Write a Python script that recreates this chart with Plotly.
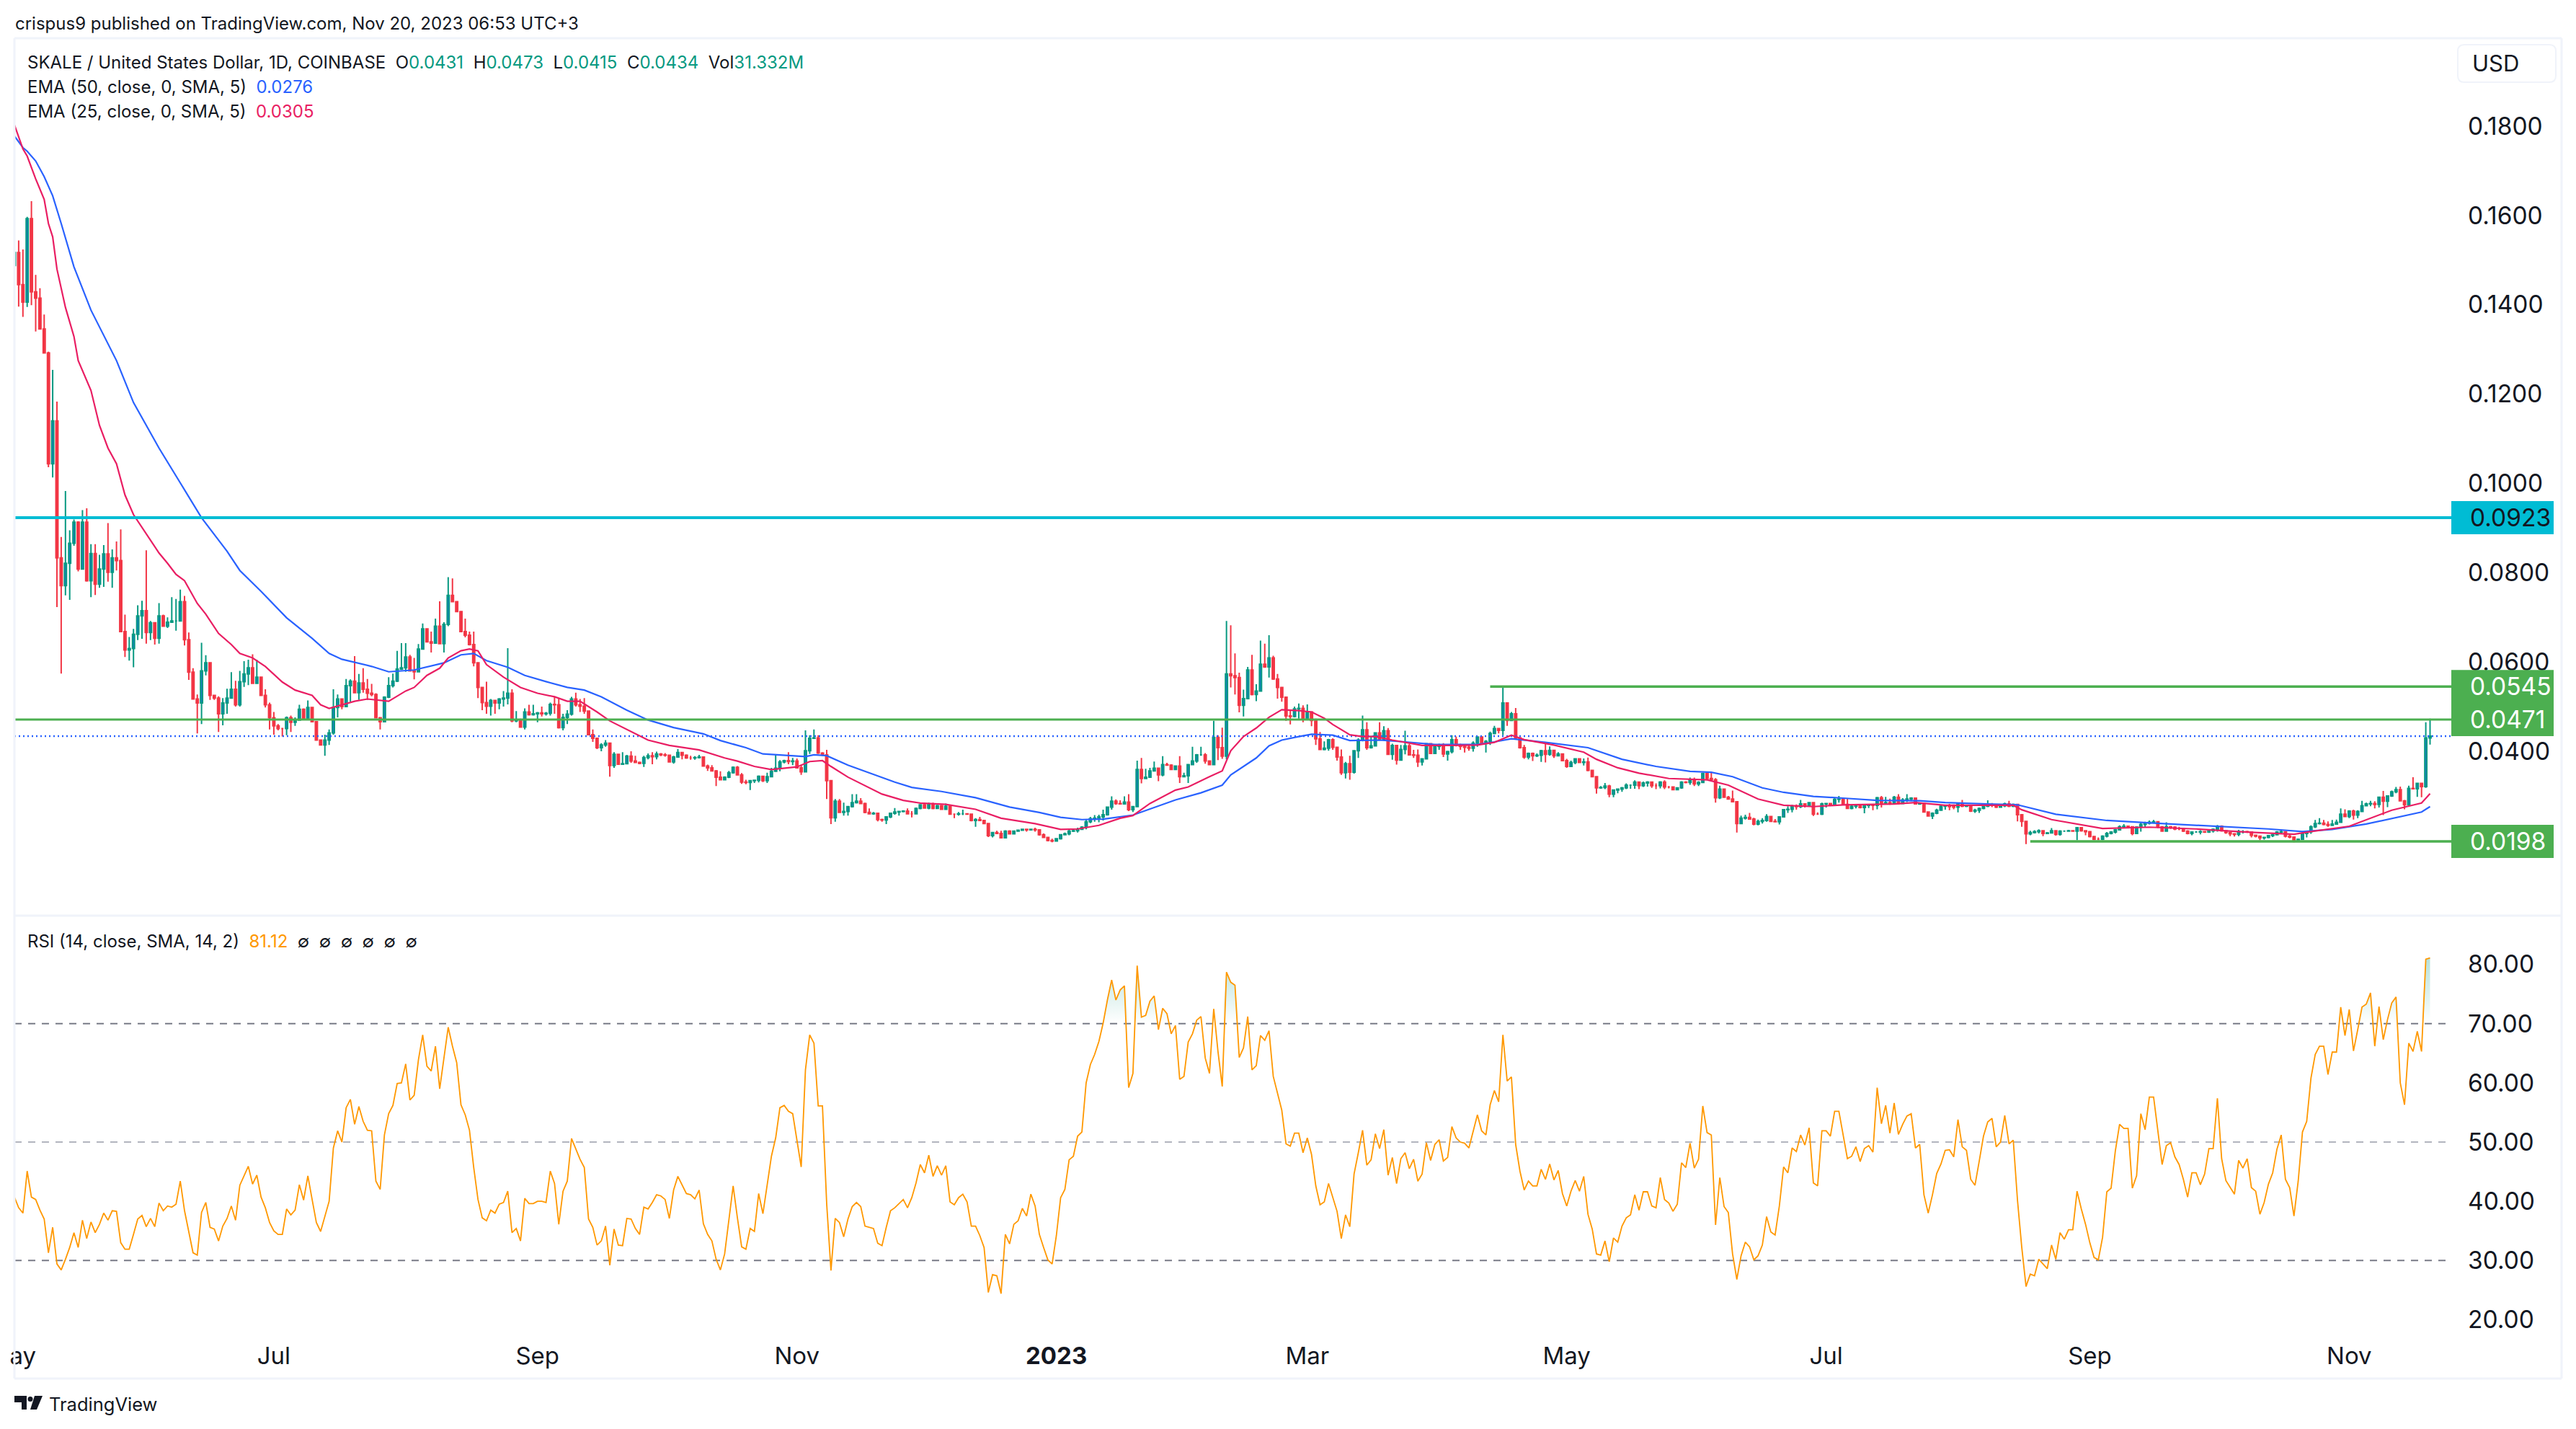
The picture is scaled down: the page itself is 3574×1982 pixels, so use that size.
import numpy as np
import pandas as pd
import plotly.graph_objects as go

# daily candles, in ten-thousandths of a dollar
first_open = 1488
closes = [
    1517,1445,1406,1593,1429,1415,1346,1292,1044,1140,
    833,771,821,866,913,808,913,782,843,774,
    808,842,801,833,827,668,627,630,662,703,
    715,666,688,653,703,680,689,692,692,735,
    650,577,517,508,580,598,525,519,484,508,
    519,539,504,556,573,587,552,566,525,504,
    475,457,451,451,475,465,470,494,472,498,
    466,425,414,425,441,498,517,500,547,557,
    531,553,539,530,527,475,466,521,547,557,
    584,587,611,580,578,629,674,645,642,680,
    641,684,749,735,713,668,660,639,598,543,
    509,501,514,508,517,519,530,468,470,454,
    488,482,484,486,484,485,505,504,453,476,
    483,517,504,501,490,437,429,408,414,418,
    368,393,371,372,389,378,375,373,386,390,
    388,394,392,391,376,387,397,391,385,385,
    386,387,367,363,356,342,336,342,352,364,
    347,331,330,334,335,344,334,343,355,362,
    376,379,377,378,363,354,401,429,430,396,
    392,334,251,288,263,265,276,285,288,283,
    263,260,261,247,246,253,261,264,265,266,
    260,260,272,280,273,281,272,278,270,277,
    259,259,260,260,259,245,247,245,238,211,
    218,216,206,221,215,221,223,225,224,225,
    224,213,207,200,199,204,213,215,221,222,
    225,230,242,249,250,253,258,275,288,283,
    282,286,269,276,359,339,342,356,362,347,
    370,369,359,367,343,345,370,378,392,392,
    378,370,431,408,389,573,569,565,503,518,
    582,527,535,595,589,609,562,543,521,479,
    478,495,496,472,488,469,428,404,407,426,
    409,387,352,372,353,401,425,448,408,412,
    441,426,446,393,413,380,404,412,392,391,
    376,383,417,395,411,412,394,399,426,414,
    411,409,407,418,432,419,422,440,451,447,
    508,469,484,430,408,387,395,390,391,401,
    393,402,390,394,379,366,375,383,375,376,
    357,343,318,319,322,304,313,315,318,324,
    324,331,323,329,331,323,323,331,320,320,
    314,318,331,330,336,327,330,350,339,336,
    296,315,297,293,287,238,250,252,248,237,
    243,245,254,243,242,253,269,270,277,276,
    282,279,285,259,259,282,283,279,292,293,
    281,272,277,280,274,279,280,279,296,284,
    285,283,297,283,291,293,295,282,283,264,
    255,261,268,277,278,276,275,283,277,278,
    266,268,272,277,280,279,275,278,282,277,
    281,258,243,215,218,220,222,216,217,222,
    214,221,221,222,221,229,222,220,209,203,
    203,210,216,219,224,231,232,231,216,230,
    236,239,241,242,231,221,231,230,226,226,
    221,216,219,219,220,219,222,225,232,222,
    218,215,214,220,220,219,212,210,206,207,
    211,213,219,220,210,208,199,203,216,220,
    231,238,239,236,234,237,241,259,254,266,
    257,265,278,282,283,281,297,288,300,309,
    314,289,280,317,316,328,321,430,434]
highs = [
    1552,1544,1524,1597,1632,1467,1437,1378,1295,1254,
    1183,880,983,895,919,915,940,944,864,864,
    840,862,911,852,870,897,706,656,674,727,
    737,850,692,688,732,706,700,745,741,762,
    748,666,586,527,643,615,598,525,523,519,
    540,577,558,580,602,605,617,605,566,539,
    509,488,461,451,478,480,476,504,496,514,
    498,466,425,437,449,539,527,518,562,561,
    613,573,586,562,551,530,476,523,566,574,
    625,642,642,616,609,640,686,674,668,697,
    736,689,790,787,735,713,697,668,668,598,
    543,556,517,514,519,535,631,539,490,473,
    496,504,504,488,500,488,509,523,519,484,
    492,522,531,517,519,490,449,429,418,425,
    419,398,393,398,392,400,390,377,390,395,
    398,399,396,396,392,390,405,398,393,390,
    389,392,386,370,369,358,355,344,356,366,
    367,351,336,335,336,346,345,352,363,392,
    380,381,398,385,384,369,447,436,449,436,
    398,403,335,293,293,285,277,304,304,295,
    285,272,264,261,249,253,261,273,266,268,
    272,266,274,281,283,285,285,280,280,283,
    275,260,264,269,260,258,250,253,246,238,
    219,222,222,223,223,222,224,226,226,226,
    229,224,216,207,204,204,214,218,226,225,
    229,232,248,253,257,258,269,275,299,292,
    290,299,304,277,379,385,361,363,377,362,
    389,374,371,368,389,352,371,410,394,410,
    396,378,468,436,453,692,682,619,576,538,
    589,616,550,648,641,660,614,573,543,522,
    492,500,507,503,505,488,473,443,422,428,
    429,410,404,376,390,402,429,480,465,435,
    441,465,456,452,417,413,414,446,417,403,
    404,384,417,418,413,417,418,401,436,433,
    417,414,414,422,433,434,425,444,457,449,
    542,506,488,497,432,414,397,397,395,403,
    420,411,402,398,395,383,379,384,383,384,
    386,357,343,322,329,325,314,316,320,328,
    325,335,332,332,333,331,328,333,335,322,
    320,319,333,333,341,341,333,352,350,352,
    340,323,315,300,312,287,256,258,262,251,
    247,250,259,254,248,254,269,277,280,281,
    291,282,285,285,263,285,284,284,296,300,
    296,294,280,281,280,281,282,280,298,300,
    298,294,300,304,295,304,297,293,285,283,
    264,263,271,280,280,282,281,285,291,280,
    279,271,274,279,290,284,282,282,285,289,
    283,282,258,243,222,223,225,223,219,228,
    222,223,222,224,223,230,229,223,216,209,
    207,212,219,221,226,234,237,232,232,232,
    241,242,245,246,242,232,241,233,232,231,
    228,223,220,221,223,221,224,227,235,234,
    223,218,216,224,223,222,220,212,210,208,
    212,215,221,225,220,213,208,204,221,221,
    234,246,250,246,243,246,247,272,270,268,
    269,268,289,285,289,288,297,311,301,312,
    320,321,291,323,342,329,328,465,473]
lows = [
    1426,1396,1373,1395,1399,1340,1345,1292,1036,1013,
    723,574,749,739,860,803,808,780,745,750,
    766,768,780,766,805,668,611,603,588,649,
    652,641,649,639,641,680,676,688,670,692,
    637,560,517,440,461,570,515,515,443,458,
    484,519,500,500,544,548,551,551,525,498,
    449,437,447,433,436,443,457,469,470,472,
    466,425,414,390,414,437,476,494,500,511,
    531,515,531,515,523,475,449,466,519,543,
    555,582,578,579,561,582,629,645,621,641,
    641,621,680,735,713,668,655,637,590,519,
    492,484,480,484,494,500,505,465,465,454,
    449,480,480,465,478,480,480,484,451,447,
    461,480,500,488,484,437,421,405,400,410,
    343,363,371,371,371,374,375,371,365,382,
    371,382,389,388,375,372,387,382,383,381,
    381,384,367,356,355,322,335,336,340,350,
    346,327,326,313,329,330,331,329,342,354,
    355,373,371,369,363,347,354,394,428,394,
    390,293,237,242,263,256,256,274,283,283,
    261,259,258,243,242,237,250,258,256,263,
    259,252,261,270,272,270,270,274,269,272,
    259,250,256,257,258,243,231,245,237,208,
    207,215,205,207,214,214,220,222,220,223,
    220,211,207,198,196,199,202,212,212,219,
    218,224,225,239,242,241,245,256,269,280,
    281,283,266,264,275,328,341,342,355,333,
    344,368,358,358,329,345,329,369,374,390,
    372,369,369,380,383,382,543,527,487,478,
    517,525,512,534,587,565,560,518,511,468,
    460,476,473,465,470,456,414,403,402,401,
    403,379,347,339,336,350,385,422,403,406,
    411,426,424,393,381,370,379,393,392,385,
    365,368,382,395,394,403,387,379,395,411,
    403,397,401,399,410,418,397,414,438,440,
    436,457,469,427,406,383,382,378,387,376,
    375,390,385,390,378,363,365,371,374,368,
    355,343,305,316,315,297,297,306,309,315,
    316,316,315,320,321,318,315,317,315,317,
    313,317,316,328,325,322,322,330,336,334,
    285,293,297,293,286,218,237,247,248,234,
    234,238,242,243,241,236,252,262,263,269,
    273,274,277,255,258,257,274,277,280,285,
    280,271,270,272,272,261,273,268,270,274,
    282,280,282,281,285,286,288,282,280,264,
    255,248,259,268,269,268,270,263,275,275,
    264,262,262,270,275,275,273,274,275,275,
    275,243,231,192,212,216,216,210,215,216,
    211,211,220,220,220,201,220,212,207,201,
    201,201,207,214,216,223,227,227,212,216,
    220,229,236,239,228,221,221,226,223,223,
    219,214,212,218,214,217,217,218,220,220,
    215,210,209,210,216,217,207,207,201,202,
    205,208,212,215,207,205,196,198,205,207,
    215,228,236,234,231,236,236,243,253,250,
    247,250,265,277,277,272,274,257,275,298,
    306,289,270,280,315,298,297,318,415]

# moving averages, read at the bends of each line (bar number, price)
ema25_days = [0,2,3,5,7,8,9,10,12,14,15,18,20,22,24,26,28,31,34,36,38,40,43,45,48,51,53,56,59,63,66,70,72,74,77,80,83,86,88,92,94,97,100,102,105,107,109,111,115,119,123,127,130,133,137,140,144,149,154,161,167,170,174,178,184,187,190,192,196,199,204,209,213,219,226,232,240,246,250,255,260,263,267,273,276,281,284,286,289,292,295,298,302,305,308,310,314,317,320,324,331,337,344,348,352,355,362,369,372,377,382,389,398,403,410,416,423,430,442,447,454,470,472,479,485,491,502,513,525,536,540,549,559,566,568]
ema25_vals = [1803,1749,1733,1682,1636,1582,1552,1480,1394,1329,1275,1208,1130,1079,1044,974,930,887,844,821,796,782,731,707,664,639,619,609,590,555,537,525,504,496,504,512,517,514,512,535,543,570,586,609,625,629,625,594,566,543,530,522,512,512,488,468,449,425,413,403,385,378,366,359,365,377,379,366,342,328,304,290,284,281,270,250,238,225,226,234,250,256,283,313,320,343,356,401,433,452,476,493,491,488,474,460,437,433,433,425,413,413,414,420,436,426,414,398,382,363,351,339,336,324,293,279,276,280,282,285,279,279,269,247,237,227,230,226,219,214,220,232,268,284,305]
ema50_days = [0,2,3,5,7,9,11,14,18,24,28,34,39,44,50,53,58,64,70,74,77,84,88,94,101,105,108,111,116,120,125,130,134,138,144,149,155,162,166,172,176,179,186,188,191,196,201,207,211,218,226,234,241,246,251,256,263,273,279,284,286,292,295,298,302,305,310,314,321,327,334,344,348,352,360,370,378,386,394,399,404,411,416,423,430,438,448,454,464,471,480,492,503,519,530,538,545,553,561,566,568]
ema50_vals = [1778,1752,1744,1722,1687,1644,1582,1485,1388,1275,1181,1079,1001,923,848,805,758,699,653,619,606,590,578,582,598,616,619,603,588,570,556,543,537,522,492,470,453,439,424,408,394,392,388,392,390,369,352,331,319,310,296,275,263,252,247,248,257,291,307,324,347,385,412,425,433,438,436,424,425,421,415,415,421,428,420,408,382,366,355,353,343,318,308,299,295,290,289,285,282,280,259,245,239,231,226,220,225,237,253,264,276]

rsi = [
    40.7,38.9,38,45.1,40.7,40.3,38.5,37,31.3,35.6,
    29.4,28.4,30.2,32.2,34.7,32.2,36.8,33.7,36.5,34.7,
    36.1,38,36.8,38.4,38.3,33,31.9,31.9,34.4,37,
    37.6,35.7,37.1,35.7,39.7,38.4,39.2,39,39.5,43.4,
    38.4,34.7,31.3,30.9,38.1,39.8,35.6,35.3,33.3,35.8,
    37.1,39.2,36.8,42.7,44.3,45.9,42.9,44.4,40.7,38.9,
    36.4,35,34.4,34.4,38.7,37.7,38.5,42.8,40.2,44.3,
    40.3,36.4,34.9,37.4,40,49,51.9,50,55.8,57.2,
    53,56,53.5,52,51.9,43.4,42,51.2,54.8,56.2,
    59.9,60,63.2,57.1,57.9,63.9,68.1,62.8,62,66.2,
    59,64.2,69.4,66.2,63.4,56.3,54.6,52,45.7,40.3,
    37.2,36.7,38.5,38,39.5,39.8,41.7,34.7,35.4,33.3,
    40.5,39.6,39.6,40,40,39.8,45.1,43,36.1,41.7,
    43.4,50.6,48.8,47.1,45.7,37,35.6,32.6,33.3,35.8,
    29.2,35.3,32.6,32.5,37.1,37,35.4,34.4,39,38.7,
    39.8,41.1,40.9,40.3,37.1,41.9,44.2,42.8,41.3,41.1,
    40.4,41.9,36.2,34.4,33.3,30.2,28.4,31.1,37,42.6,
    37.2,32.3,31.9,35.4,34.9,41.3,37.9,42.7,47.6,50.7,
    55.8,56.2,55.2,54.8,50.2,45.8,62.2,68.1,66.7,56.1,
    56.1,39.5,28.3,37.1,36.4,34,37,39.1,39.8,39.1,
    35.8,35.6,35.4,32.9,32.5,35.6,38.4,38.9,39.6,40.3,
    38.9,40.6,43.1,46.2,44.8,47.8,44.2,46,44.4,46,
    39.9,39.4,40.6,41.2,39.9,35.8,35.8,34.2,32.2,24.6,
    27.6,27.4,24.4,34.4,32.8,36.1,36.7,38.8,37.5,41.2,
    39.2,34.4,32.2,30.1,29.4,34.2,40.6,42,47,47.6,
    51,51.7,60,63.1,64.8,67,70.1,74,77.4,74,
    75.7,76.4,59.2,61.6,79.8,71.1,71.4,73.8,74.7,69,
    72.6,71.7,68.3,69.7,60.6,61.1,66.9,68.3,70.6,71.2,
    64.2,61.6,72.5,65.3,59.4,78.7,77,76.5,64.3,65.9,
    71.2,62.2,62.9,68,67.2,68.8,61.1,58.3,55.4,49.7,
    49.3,51.5,51.5,48.2,50.7,47.9,42.6,39.4,39.9,43,
    40.6,38.3,33.7,37.7,35.7,44.6,48.2,52,46.1,47,
    51.4,48.9,52.1,44.4,47.4,43,47.2,48.2,45.5,47.1,
    43.4,44.6,49.9,46.9,49.6,50.4,46.8,47.4,52.6,50.7,
    50,49.8,49,51.9,54.6,51.9,51.2,56.3,58.7,56.8,
    68.1,60.3,61,49.6,45.1,41.9,43.4,42.6,42.6,45.4,
    43.7,46.3,43.6,45.2,41.3,39.2,41.7,43.5,41.7,44.2,
    37.8,35.3,31.1,30.9,33.3,29.8,33.8,33.1,35.8,37.2,
    37.7,41.1,38.5,41.6,41.6,39.2,38.9,44,40.3,39.7,
    38.3,39.5,46.5,45.7,49.8,45.6,47.1,56.1,51.6,51.2,
    36,44,39.1,38.1,
    31.1,26.8,30.8,33.1,32.3,30.1,30.8,32.6,37.4,34.8,
    34.3,39.2,45.8,44.8,49,48.4,51.2,49.5,52.4,43.1,
    42.6,51.9,51.9,51,55.2,55.2,51.3,47.2,47.6,49.2,
    46.7,48.9,49.4,48.3,59.2,53.1,56.2,51.5,56.6,51.3,
    53,54.4,54.8,49,49.6,41.1,38,41.1,44.7,46.3,
    48.6,48.7,47.5,53.8,49.2,48.6,43.7,42.7,46.8,51,
    53.4,54,49.2,50,54.5,49.7,50.3,40.1,32.2,25.6,
    27.7,27.4,30.2,29.4,28.6,32.6,30.2,34.7,33.6,35.2,
    35.2,41.7,38.7,36.1,33,30.5,30.1,33.9,41.6,42.2,
    48.5,53,52.3,52.3,42.2,44.3,54.8,52.1,57.6,57.6,
    51.9,46.2,49.4,49.9,47.5,46.2,43.7,40.7,44.8,44.8,
    42.8,44.6,48.9,48.9,57.4,47.2,43.5,42.3,41.2,46.9,
    45.6,47.2,42.3,41.7,37.8,39.8,42.9,44.8,48.8,51.2,
    43.7,42.3,37.5,43.4,51.7,53.5,60.8,64.8,66.2,66.2,
    61.4,65.2,65.2,72.8,68,72.4,65.4,69,72.8,73.3,
    75.2,66.2,72.9,67.3,70.7,73.5,74.5,60,56.3,66.7,
    65.3,68.7,65.3,80.9,81.12]

assert len(closes) == len(highs) == len(lows) == len(rsi) == 569
assert len(ema25_days) == len(ema25_vals) and len(ema50_days) == len(ema50_vals)

price_ticks = [0.18, 0.16, 0.14, 0.12, 0.10, 0.08, 0.06, 0.04]
rsi_ticks = [80, 70, 60, 50, 40, 30, 20]
month_ticks = ["2022-05-03", "2022-07-01", "2022-09-01", "2022-11-01", "2023-01-01",
               "2023-03-01", "2023-05-01", "2023-07-01", "2023-09-01", "2023-11-01"]
month_labels = ["ay", "Jul", "Sep", "Nov", "<b>2023</b>", "Mar", "May", "Jul", "Sep", "Nov"]

# horizontal levels
level_cyan = 0.0923
level_green_mid = 0.0471
level_green_high = 0.0545
level_green_low = 0.0198
last_close = 0.0434
rsi_levels = [70, 50, 30]

# positions below are page pixels; the browser page has an 8px body margin
PAGE = 8
W, H = 3574 - PAGE, 1982 - PAGE
L, R, T, B = 20 - PAGE, 3401 - PAGE, 53 - PAGE, 1846 - PAGE
SPLIT = 1270
FONT = "Inter"
INK = "#131722"
TEAL = "#089981"
RED = "#f23645"
FRAME = "#f0f3fa"


def px(x):
    return (x - PAGE - L) / (R - L)


def py(y):
    return (B - (y - PAGE)) / (B - T)


dates = pd.date_range("2022-05-01", periods=len(closes))
x_end = "2023-11-25"
opens = [first_open] + closes[:-1]  # each daily bar opens on the previous close


def price(v):
    return np.array(v) / 10000


fig = go.Figure()


def level(value, start, color, width, dash="solid"):
    fig.add_trace(go.Scatter(x=[start, x_end], y=[value, value], mode="lines",
                             line=dict(color=color, width=width, dash=dash), hoverinfo="skip"))


level(last_close, "2022-05-01", "#2962ff", 2.5, "2px,4px")

fig.add_trace(go.Candlestick(
    x=dates, open=price(opens), high=price(highs), low=price(lows), close=price(closes),
    increasing=dict(line=dict(color=TEAL, width=2), fillcolor="#1976d2"),
    decreasing=dict(line=dict(color=RED, width=2), fillcolor=RED),
    whiskerwidth=0))

fig.add_trace(go.Scatter(x=dates[ema50_days], y=price(ema50_vals), mode="lines",
                         line=dict(color="#2962ff", width=2.2)))
fig.add_trace(go.Scatter(x=dates[ema25_days], y=price(ema25_vals), mode="lines",
                         line=dict(color="#e91e63", width=2.2)))

level(level_cyan, "2022-05-01", "#00bcd4", 4)
level(level_green_mid, "2022-05-01", "#4caf50", 3)
level(level_green_high, "2023-04-13", "#4caf50", 3.5)
level(level_green_low, "2023-08-18", "#4caf50", 3.5)

# rsi pane
rsi_arr = np.array(rsi)
for base, clipped, rgb in [(70, np.maximum(rsi_arr, 70), "8,153,129"), (30, np.minimum(rsi_arr, 30), "242,54,69")]:
    fig.add_trace(go.Scatter(x=dates, y=[base] * len(dates), mode="lines", line=dict(width=0),
                             xaxis="x", yaxis="y2", hoverinfo="skip"))
    if base == 70:
        grad = dict(type="vertical", start=70, stop=82,
                    colorscale=[[0, f"rgba({rgb},0)"], [1, f"rgba({rgb},0.32)"]])
    else:
        grad = dict(type="vertical", start=18, stop=30,
                    colorscale=[[0, f"rgba({rgb},0.18)"], [1, f"rgba({rgb},0)"]])
    fig.add_trace(go.Scatter(x=dates, y=clipped, mode="lines", line=dict(width=0), fill="tonexty",
                             fillgradient=grad, xaxis="x", yaxis="y2", hoverinfo="skip"))

for lv in rsi_levels:
    fig.add_trace(go.Scatter(x=[dates[0], x_end], y=[lv, lv], mode="lines", xaxis="x", yaxis="y2",
                             line=dict(color="#b2b5be" if lv == 50 else "#787b86", width=2, dash="10px,9px")))
fig.add_trace(go.Scatter(x=dates, y=rsi, mode="lines", xaxis="x", yaxis="y2",
                         line=dict(color="#ff9800", width=1.8)))

# frame and separators
shapes = []
for x0, y0, x1, y1 in [(20, 53, 3554, 53), (20, 53, 20, 1912), (3554, 53, 3554, 1912), (20, 1912, 3554, 1912), (20, SPLIT, 3554, SPLIT)]:
    shapes.append(dict(type="line", xref="paper", yref="paper", x0=px(x0), y0=py(y0), x1=px(x1), y1=py(y1),
                       line=dict(color=FRAME, width=3)))

# price tags on the axis
tags = [(level_green_high, "#4caf50", "white"), (level_green_mid, "#4caf50", "white"),
        (level_green_low, "#4caf50", "white"), (level_cyan, "#00bcd4", INK)]
annotations = []
for value, bg, fg in tags:
    shapes.append(dict(type="rect", xref="paper", x0=px(3401), x1=px(3543), yref="y", ysizemode="pixel",
                       yanchor=value, y0=-23, y1=23, fillcolor=bg, line=dict(width=0), layer="above"))
    annotations.append(dict(text=f"{value:.4f}", xref="paper", yref="y", x=px(3425), y=value, xanchor="left",
                            yanchor="middle", showarrow=False, font=dict(family=FONT, size=33.5, color=fg)))


def round_rect(x0, y0, x1, y1, r):
    a, b, c, d = px(x0), px(x1), py(y0), py(y1)
    rx, ry = r / (R - L), r / (B - T)
    return (f"M{a + rx},{c} L{b - rx},{c} Q{b},{c} {b},{c - ry} L{b},{d + ry} Q{b},{d} {b - rx},{d} "
            f"L{a + rx},{d} Q{a},{d} {a},{d + ry} L{a},{c - ry} Q{a},{c} {a + rx},{c} Z")


shapes.append(dict(type="path", xref="paper", yref="paper", path=round_rect(3410, 62, 3546, 114, 9),
                   line=dict(color=FRAME, width=2), fillcolor="white"))

# tradingview mark
logo = [[(20, 1936), (37, 1936), (37, 1955), (30, 1955), (30, 1945), (20, 1945)],
        [(48, 1936), (59, 1936), (51, 1955), (42, 1955)]]
for poly in logo:
    path = "M" + " L".join(f"{px(a)},{py(b)}" for a, b in poly) + " Z"
    shapes.append(dict(type="path", xref="paper", yref="paper", path=path, fillcolor=INK, line=dict(width=0)))
shapes.append(dict(type="circle", xref="paper", yref="paper", x0=px(38.5), x1=px(45.5), y0=py(1937), y1=py(1944),
                   fillcolor=INK, line=dict(width=0)))


def label(text, x, y, size=24, color=INK):
    annotations.append(dict(text=text, xref="paper", yref="paper", x=px(x), y=py(y), xanchor="left", yanchor="middle",
                            showarrow=False, borderpad=0, font=dict(family=FONT, size=size, color=color)))


def tinted(text, color):
    return f'<span style="color:{color}">{text}</span>'


gap = "\u00a0\u00a0"
label("crispus9 published on TradingView.com, Nov 20, 2023 06:53 UTC+3", 20, 32, 24)
label("SKALE / United States Dollar, 1D, COINBASE" + gap +
      "O" + tinted("0.0431", TEAL) + gap + "H" + tinted("0.0473", TEAL) + gap +
      "L" + tinted("0.0415", TEAL) + gap + "C" + tinted("0.0434", TEAL) + gap +
      "Vol" + tinted("31.332M", TEAL), 37, 86)
label("EMA (50, close, 0, SMA, 5)" + gap + tinted("0.0276", "#2962ff"), 37, 120)
label("EMA (25, close, 0, SMA, 5)" + gap + tinted("0.0305", "#e91e63"), 37, 154)
label("RSI (14, close, SMA, 14, 2)" + gap + tinted("81.12", "#ff9800") + gap +
      gap.join(["\u2205"] * 6), 37, 1305)
label("USD", 3429, 87, 31)
label("TradingView", 67, 1948, 25.5)

axis_font = dict(family=FONT, size=33.5, color=INK)
fig.update_layout(
    width=W, height=H, paper_bgcolor="white", plot_bgcolor="white", showlegend=False,
    margin=dict(l=L, r=W - R, t=T, b=H - B, autoexpand=False),
    font=dict(family=FONT, color=INK),
    shapes=shapes, annotations=annotations,
    xaxis=dict(type="date", range=["2022-05-01", x_end], anchor="y2", showgrid=False, zeroline=False, showline=False,
               rangeslider=dict(visible=False), tickmode="array", tickvals=month_ticks, ticktext=month_labels,
               tickfont=dict(family=FONT, size=33, color=INK), ticks="", ticklabelstandoff=12),
    yaxis=dict(domain=[(1846 - SPLIT) / (B - T), 1], range=[0.00318, 0.1997], side="right", showgrid=False, zeroline=False,
               showline=False, tickmode="array", tickvals=price_ticks, ticktext=[f"{v:.4f}" for v in price_ticks],
               tickfont=axis_font, ticks="", ticklabelstandoff=22),
    yaxis2=dict(domain=[0, (1846 - SPLIT) / (B - T)], range=[18.09, 88.25], side="right", showgrid=False, zeroline=False,
                showline=False, tickmode="array", tickvals=rsi_ticks, ticktext=[f"{v:.2f}" for v in rsi_ticks],
                tickfont=axis_font, ticks="", ticklabelstandoff=22, anchor="x"),
)

fig.write_html("out.html")
